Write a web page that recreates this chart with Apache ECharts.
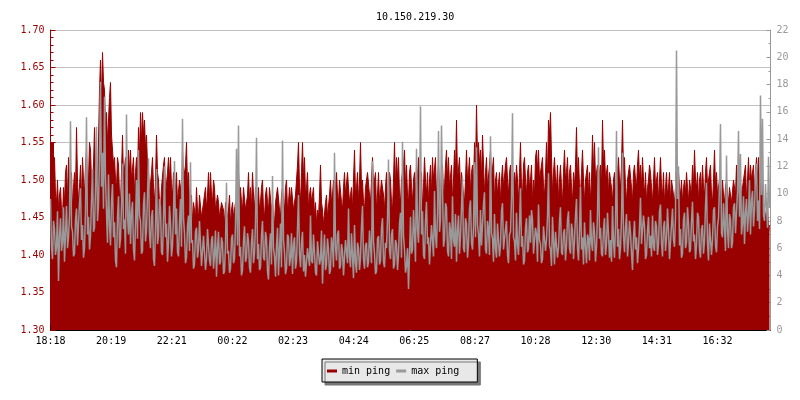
<!DOCTYPE html>
<html>
<head>
  <meta charset="UTF-8">
  <title>10.150.219.30</title>
  <script src="https://cdn.jsdelivr.net/npm/echarts@6/dist/echarts.min.js"></script>
  <style>
    body { margin: 0; background: #fff; }
    #main { width: 800px; height: 400px; }
  </style>
</head>
<body>
<div id="main"></div>
<script type="text/javascript">
  // one sample every 2 minutes, starting 18:18
  var stepMin = 2;
  var labelStep = 1334 / 11;
  var xLabels = ['18:18', '20:19', '22:21', '00:22', '02:23', '04:24', '06:25', '08:27', '10:28', '12:30', '14:31', '16:32'];

  // min ping (left axis)
  var minPing = [
    1.55,1.55,1.55,1.50,1.53,1.48,1.47,1.50,1.46,1.48,1.49,1.46,1.45,1.49,1.47,1.51,1.52,1.47,1.53,1.50,1.48,1.51,1.46,1.49,1.51,1.48,1.57,1.50,1.47,1.49,1.52,1.47,1.53,1.50,1.48,1.52,1.54,1.49,1.50,1.55,
    1.54,1.50,1.49,1.52,1.57,1.51,1.52,1.49,1.55,1.62,1.66,1.60,1.67,1.63,1.62,1.57,1.59,1.55,1.58,1.61,1.63,1.56,1.56,1.52,1.53,1.50,1.49,1.53,1.52,1.48,1.47,1.51,1.56,1.50,1.50,1.53,1.52,1.49,1.54,1.51,
    1.54,1.50,1.50,1.53,1.48,1.51,1.53,1.50,1.57,1.53,1.59,1.55,1.59,1.56,1.58,1.54,1.56,1.52,1.51,1.48,1.48,1.51,1.53,1.49,1.47,1.50,1.56,1.51,1.50,1.47,1.46,1.49,1.49,1.52,1.53,1.48,1.48,1.51,1.53,1.50,
    1.53,1.49,1.48,1.51,1.46,1.49,1.51,1.47,1.47,1.50,1.49,1.46,1.54,1.50,1.50,1.52,1.55,1.49,1.51,1.47,1.46,1.48,1.44,1.47,1.47,1.45,1.49,1.46,1.45,1.48,1.48,1.45,1.45,1.47,1.47,1.49,1.46,1.48,1.51,1.47,
    1.51,1.48,1.47,1.50,1.49,1.46,1.46,1.48,1.47,1.45,1.45,1.47,1.47,1.46,1.44,1.47,1.47,1.45,1.46,1.48,1.44,1.46,1.47,1.45,1.45,1.47,1.44,1.46,1.51,1.48,1.49,1.47,1.46,1.49,1.49,1.46,1.46,1.48,1.51,1.47,
    1.49,1.46,1.51,1.48,1.46,1.49,1.45,1.47,1.49,1.46,1.47,1.49,1.50,1.46,1.45,1.48,1.49,1.47,1.46,1.49,1.49,1.46,1.47,1.45,1.44,1.47,1.47,1.49,1.49,1.46,1.45,1.48,1.49,1.47,1.46,1.49,1.50,1.46,1.47,1.49,
    1.47,1.49,1.49,1.46,1.46,1.48,1.48,1.52,1.55,1.49,1.47,1.51,1.55,1.50,1.53,1.48,1.49,1.51,1.46,1.48,1.49,1.47,1.47,1.49,1.45,1.47,1.44,1.46,1.45,1.48,1.52,1.47,1.46,1.44,1.44,1.47,1.48,1.45,1.45,1.48,
    1.50,1.47,1.48,1.50,1.46,1.49,1.51,1.48,1.47,1.50,1.50,1.47,1.46,1.49,1.51,1.48,1.48,1.51,1.51,1.47,1.47,1.49,1.46,1.50,1.54,1.48,1.49,1.51,1.47,1.50,1.55,1.49,1.50,1.47,1.46,1.49,1.49,1.51,1.51,1.48,
    1.47,1.50,1.53,1.49,1.49,1.51,1.46,1.48,1.51,1.47,1.47,1.50,1.50,1.48,1.46,1.49,1.51,1.47,1.49,1.51,1.50,1.47,1.46,1.50,1.55,1.49,1.53,1.50,1.53,1.48,1.47,1.50,1.50,1.52,1.54,1.49,1.52,1.48,1.47,1.51,
    1.52,1.49,1.47,1.50,1.51,1.48,1.52,1.50,1.53,1.49,1.48,1.51,1.46,1.49,1.53,1.50,1.48,1.51,1.47,1.50,1.52,1.48,1.53,1.50,1.50,1.53,1.47,1.50,1.52,1.49,1.48,1.51,1.52,1.48,1.49,1.52,1.54,1.50,1.53,1.49,
    1.49,1.52,1.47,1.50,1.54,1.51,1.58,1.50,1.50,1.53,1.48,1.51,1.51,1.48,1.47,1.50,1.54,1.50,1.51,1.53,1.48,1.51,1.52,1.49,1.55,1.51,1.60,1.53,1.55,1.52,1.54,1.50,1.56,1.52,1.48,1.51,1.53,1.49,1.49,1.52,
    1.54,1.50,1.50,1.53,1.47,1.50,1.51,1.48,1.48,1.51,1.47,1.50,1.52,1.49,1.49,1.52,1.53,1.50,1.48,1.51,1.52,1.48,1.47,1.50,1.51,1.49,1.52,1.50,1.47,1.51,1.55,1.49,1.48,1.52,1.53,1.50,1.48,1.51,1.52,1.49,
    1.50,1.52,1.47,1.50,1.48,1.53,1.54,1.51,1.54,1.50,1.50,1.52,1.53,1.49,1.48,1.51,1.55,1.50,1.58,1.56,1.59,1.53,1.48,1.51,1.53,1.50,1.49,1.52,1.47,1.50,1.52,1.49,1.47,1.51,1.54,1.50,1.51,1.53,1.48,1.51,
    1.52,1.49,1.47,1.51,1.49,1.52,1.57,1.50,1.53,1.49,1.48,1.51,1.54,1.50,1.47,1.50,1.50,1.52,1.48,1.51,1.47,1.50,1.56,1.51,1.55,1.50,1.50,1.52,1.48,1.51,1.52,1.49,1.58,1.52,1.54,1.50,1.50,1.52,1.48,1.51,
    1.51,1.49,1.47,1.50,1.51,1.48,1.48,1.51,1.53,1.50,1.49,1.52,1.58,1.51,1.53,1.49,1.47,1.50,1.50,1.52,1.52,1.49,1.47,1.51,1.52,1.50,1.49,1.52,1.54,1.50,1.52,1.49,1.53,1.50,1.48,1.51,1.47,1.49,1.50,1.52,
    1.51,1.49,1.47,1.50,1.53,1.49,1.49,1.51,1.47,1.50,1.53,1.49,1.48,1.51,1.47,1.49,1.51,1.48,1.49,1.51,1.47,1.50,1.50,1.48,1.47,1.49,1.51,1.48,1.51,1.49,1.48,1.50,1.47,1.49,1.50,1.48,1.51,1.49,1.47,1.50,
    1.50,1.48,1.52,1.49,1.54,1.50,1.49,1.51,1.47,1.50,1.51,1.48,1.52,1.49,1.48,1.51,1.53,1.49,1.49,1.51,1.52,1.48,1.47,1.50,1.54,1.49,1.51,1.48,1.48,1.50,1.49,1.47,1.50,1.48,1.47,1.49,1.50,1.48,1.47,1.49,
    1.49,1.47,1.47,1.50,1.50,1.48,1.52,1.49,1.49,1.51,1.51,1.48,1.48,1.50,1.50,1.52,1.47,1.50,1.53,1.49,1.52,1.50,1.50,1.52,1.48,1.51,1.53,1.50,1.53,1.49,1.49,1.51,1.50,1.47,1.47,1.45,1.45,1.47,1.43,1.44
  ];

  // max ping (right axis)
  var maxPing = [
    9.6,6.1,5.2,8.0,7.4,5.5,6.1,8.7,3.6,6.9,8.2,5.8,6.4,9.0,5.0,7.1,9.1,6.0,6.8,8.4,15.3,7.6,7.2,5.4,5.6,8.1,8.9,6.2,6.3,9.3,10.4,6.6,7.7,5.3,6.0,8.8,15.6,7.0,8.3,5.9,
    6.9,9.5,11.8,7.2,7.5,10.3,14.9,8.0,9.2,12.6,18.2,10.5,13.0,8.9,17.1,11.2,8.6,6.4,11.4,7.7,6.2,9.4,10.7,6.8,7.9,5.1,4.6,8.3,9.8,6.0,6.7,9.1,12.2,7.4,8.1,5.6,15.8,8.5,7.0,10.0,
    6.3,8.6,9.4,5.9,5.1,7.8,11.0,6.7,13.2,8.4,8.0,5.6,5.8,9.2,10.1,6.5,7.3,9.9,12.6,7.0,6.0,8.3,8.8,5.2,4.7,7.5,11.8,6.3,6.9,9.6,9.0,5.7,5.5,8.2,12.0,6.8,7.8,5.0,6.4,9.1,
    7.8,5.4,6.2,8.5,12.4,7.0,8.9,5.7,5.4,7.9,9.6,6.1,15.5,8.2,7.1,4.9,5.3,7.6,8.4,5.8,12.3,6.4,6.6,4.5,4.8,7.2,7.5,5.3,5.9,8.0,8.1,4.7,4.6,6.9,6.8,4.4,5.2,7.4,7.3,5.1,
    4.7,6.6,6.9,4.5,5.5,7.3,3.9,6.0,7.2,4.8,5.0,6.8,6.4,4.1,4.3,6.3,10.8,5.6,5.8,4.2,4.5,6.7,7.0,4.9,5.2,7.8,13.3,6.2,15.0,5.4,6.1,4.0,4.4,6.5,7.6,5.0,5.3,7.1,6.5,4.6,
    4.2,6.4,7.4,4.9,5.6,7.9,14.1,5.2,6.3,4.4,4.6,6.9,8.0,5.3,5.1,7.2,6.7,4.3,3.7,6.1,7.1,4.8,11.3,6.0,5.4,3.9,6.2,7.5,4.0,5.9,7.8,4.6,13.9,6.6,5.7,4.1,4.5,7.0,6.8,4.7,
    5.3,7.1,4.1,6.2,6.8,4.5,5.0,7.4,9.9,5.6,4.6,6.4,7.2,4.3,5.5,3.9,3.8,6.0,6.1,4.7,8.4,5.1,4.9,7.0,5.7,4.2,4.0,6.5,6.6,4.8,5.2,7.3,3.4,5.5,7.0,4.4,4.8,6.7,5.9,4.1,
    4.4,6.8,6.2,4.6,13.0,6.1,5.1,7.0,7.3,4.5,4.7,6.3,5.8,4.0,3.9,6.6,6.5,4.9,8.9,5.4,4.6,7.1,5.4,3.8,7.7,5.0,4.2,6.4,6.0,4.4,5.3,7.6,9.1,5.2,4.5,6.2,6.4,4.6,5.0,7.3,
    7.2,4.9,12.4,6.5,5.6,4.1,4.3,6.7,6.9,4.8,5.1,7.5,8.2,5.0,4.6,6.4,6.0,8.1,12.5,5.8,5.2,7.0,7.4,4.5,4.8,6.6,6.3,4.4,5.5,7.8,8.6,5.3,13.8,6.9,5.9,4.2,4.7,6.0,3.0,5.5,
    8.3,5.6,5.9,8.8,7.1,5.0,13.3,7.4,6.4,9.1,16.4,7.0,8.7,5.5,5.2,8.0,9.4,6.3,6.8,4.8,4.9,7.7,7.6,5.4,10.2,6.9,6.0,8.6,14.6,7.2,8.1,15.0,15.0,6.1,6.6,9.3,9.0,5.8,5.4,7.9,
    7.3,5.2,9.8,6.6,6.1,8.5,5.0,7.3,8.4,5.6,6.9,9.0,11.2,6.0,5.7,8.2,7.8,5.3,6.3,8.9,9.5,6.4,5.9,7.6,12.3,6.8,13.4,7.7,7.0,5.4,8.8,6.2,6.2,9.2,10.1,5.9,5.6,8.0,7.4,5.5,
    14.2,7.1,6.7,5.0,8.5,6.0,5.3,7.8,7.9,5.4,6.2,8.7,9.3,5.9,5.8,7.4,8.0,5.5,4.9,7.0,7.2,9.6,15.9,6.8,6.5,5.1,8.6,6.3,5.5,7.7,10.4,6.1,6.9,4.8,5.1,7.5,8.2,5.7,6.0,8.4,
    6.4,8.8,8.1,5.6,5.7,7.5,7.0,5.0,9.2,6.6,6.3,4.9,5.2,7.6,7.7,5.8,6.6,8.3,11.5,6.2,5.9,4.7,8.3,6.5,4.8,7.2,7.1,5.3,6.0,8.0,9.0,5.7,5.5,7.1,7.4,5.1,6.2,8.1,8.7,6.0,
    5.6,7.8,7.3,5.2,6.5,8.4,9.6,6.0,5.1,7.3,10.5,5.9,6.8,4.8,7.9,6.2,4.9,7.0,6.7,5.1,8.8,6.4,5.8,7.9,7.2,5.0,6.1,8.5,13.4,6.7,7.5,5.6,5.4,7.4,8.2,5.5,6.3,8.6,7.0,5.3,
    6.6,5.0,9.1,6.5,5.3,7.7,14.6,6.1,7.4,5.2,6.0,8.2,13.0,6.9,5.7,7.5,8.5,5.4,6.4,8.0,7.1,5.6,4.4,6.8,8.0,5.9,6.8,4.9,5.9,7.6,9.7,6.3,6.2,8.4,7.6,5.2,5.5,7.3,8.3,6.0,
    6.9,5.4,8.4,6.1,5.8,8.0,7.6,5.5,6.3,8.7,9.2,6.4,5.4,7.5,8.0,5.8,6.7,8.9,7.3,5.2,5.2,7.7,8.9,6.6,6.1,8.3,20.5,9.6,12.0,6.2,7.4,5.3,5.6,8.1,8.6,6.0,6.4,9.0,7.8,5.7,
    5.9,8.0,9.4,6.5,7.0,5.2,6.2,8.6,8.3,5.9,5.3,7.4,7.7,5.6,6.5,9.1,10.8,6.3,5.1,7.8,7.9,5.5,6.6,8.8,9.0,6.2,5.7,7.6,8.2,10.6,15.1,7.1,6.8,9.3,7.5,5.8,12.8,7.3,6.0,8.5,
    8.1,6.0,6.4,9.0,9.3,7.1,7.2,10.1,14.6,8.3,12.9,7.0,7.8,9.8,6.3,8.6,9.6,7.2,8.4,11.0,7.0,9.4,10.2,7.6,8.8,11.3,12.2,8.0,9.5,7.4,17.2,9.9,15.5,8.4,8.0,10.7,9.1,7.5,12.7,9.0
  ];

  function toPairs(arr) {
    var out = [];
    for (var i = 0; i < arr.length; i++) {
      out.push([i * stepMin, arr[i]]);
    }
    return out;
  }

  var font = 'DejaVu Sans Mono';
  var red = '#990000';
  var gray = '#999999';

  var option = {
    animation: false,
    backgroundColor: '#ffffff',
    title: {
      text: '10.150.219.30',
      left: 371,
      top: 7,
      textStyle: { fontFamily: font, fontSize: 10, fontWeight: 'normal', color: '#000' }
    },
    legend: {
      left: 322,
      top: 359,
      padding: [7, 18, 6, 5],
      itemWidth: 10,
      itemHeight: 3,
      itemGap: 6,
      backgroundColor: '#e8e8e8',
      borderColor: '#000',
      borderWidth: 1,
      shadowColor: '#777',
      shadowBlur: 0,
      shadowOffsetX: 3,
      shadowOffsetY: 3,
      textStyle: { fontFamily: font, fontSize: 10, color: '#000' },
      data: [
        { name: 'min ping', icon: 'rect' },
        { name: 'max ping', icon: 'rect' }
      ]
    },
    // half-pixel offset keeps the 1px steps crisp
    grid: { left: 50.5, right: 29.5, top: 30, bottom: 70 },
    xAxis: {
      type: 'value',
      min: 0,
      max: 1440,
      interval: labelStep,
      axisLine: { lineStyle: { color: '#000' } },
      axisTick: { inside: true, length: 5, lineStyle: { color: '#000' } },
      splitLine: { show: false },
      axisLabel: {
        fontFamily: font, fontSize: 10, color: '#000', margin: 6,
        showMaxLabel: false,
        formatter: function (v) {
          var k = Math.round(v / labelStep);
          if (Math.abs(v - k * labelStep) < 1 && k < xLabels.length) return xLabels[k];
          return '';
        }
      }
    },
    yAxis: [{
      type: 'value',
      min: 1.30,
      max: 1.70,
      interval: 0.05,
      axisLine: { show: true, lineStyle: { color: red } },
      axisTick: { show: true, inside: true, length: 5, lineStyle: { color: red } },
      minorTick: { show: true, splitNumber: 5, length: 3, lineStyle: { color: red } },
      splitLine: { show: true, lineStyle: { color: '#c0c0c0', width: 1 } },
      axisLabel: {
        fontFamily: font, fontSize: 10, color: red, margin: 6,
        formatter: function (v) { return v.toFixed(2); }
      }
    }, {
      type: 'value',
      min: 0,
      max: 22,
      interval: 2,
      position: 'right',
      axisLine: { show: true, lineStyle: { color: gray } },
      axisTick: { show: true, inside: true, length: 4, lineStyle: { color: gray } },
      minorTick: { show: true, splitNumber: 2, length: 2, lineStyle: { color: gray } },
      splitLine: { show: false },
      axisLabel: { fontFamily: font, fontSize: 10, color: gray, margin: 6 }
    }],
    series: [{
      name: 'min ping',
      type: 'line',
      yAxisIndex: 0,
      step: 'end',
      symbol: 'none',
      color: red,
      lineStyle: { color: red, width: 1 },
      areaStyle: { color: red, opacity: 1 },
      data: toPairs(minPing)
    }, {
      name: 'max ping',
      type: 'line',
      yAxisIndex: 1,
      step: 'end',
      symbol: 'none',
      color: gray,
      lineStyle: { color: gray, width: 1.5 },
      data: toPairs(maxPing)
    }]
  };

  var myChart = echarts.init(document.getElementById('main'));
  myChart.setOption(option);
</script>
</body>
</html>
